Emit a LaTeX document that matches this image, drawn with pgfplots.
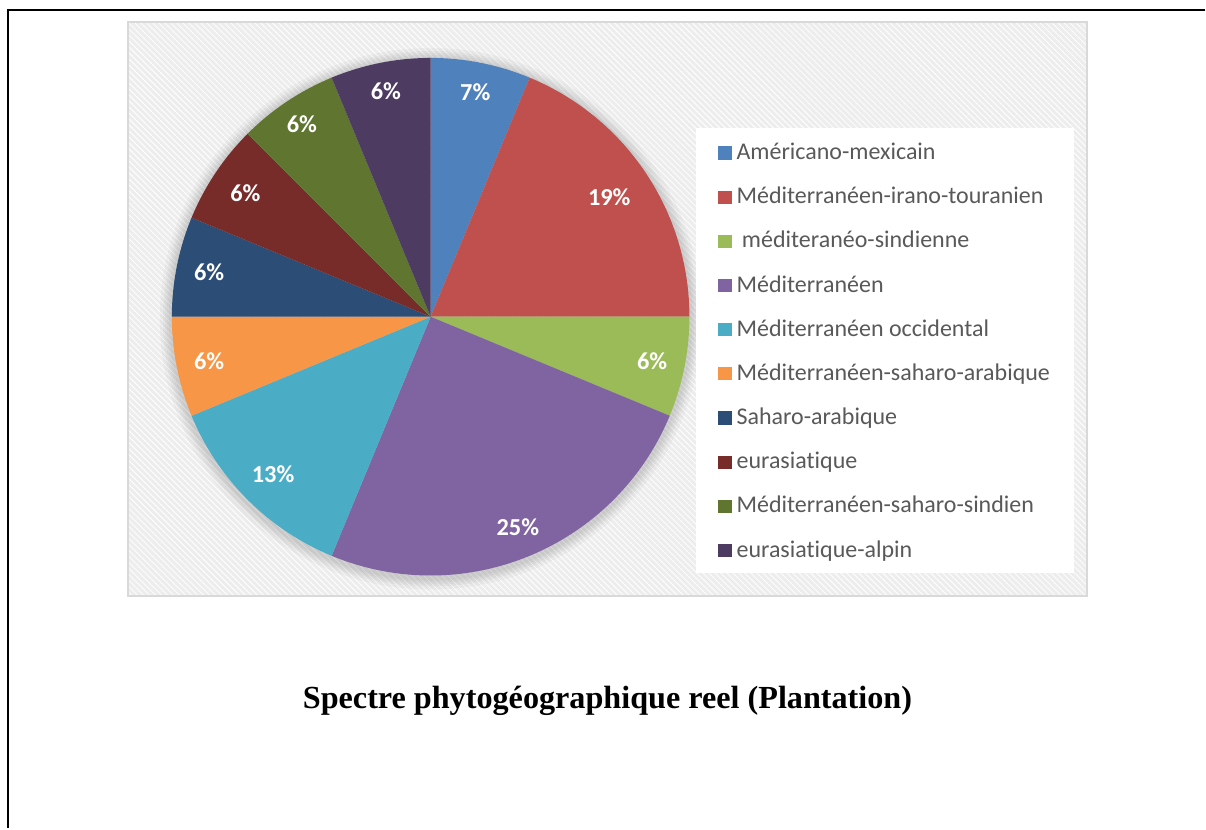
\documentclass[border=0pt]{standalone}
\usepackage{fontspec}
\setmainfont{Liberation Serif}
\newfontfamily\carlito[RawFeature={-liga}]{Carlito}
\usepackage{pgfplots}
\pgfplotsset{compat=1.18}
\usetikzlibrary{patterns}

\definecolor{c1}{HTML}{4F81BD}
\definecolor{c2}{HTML}{C0504D}
\definecolor{c3}{HTML}{9BBB59}
\definecolor{c4}{HTML}{8064A2}
\definecolor{c5}{HTML}{4BACC6}
\definecolor{c6}{HTML}{F79646}
\definecolor{c7}{HTML}{2C4D75}
\definecolor{c8}{HTML}{772C2A}
\definecolor{c9}{HTML}{5F7530}
\definecolor{c10}{HTML}{4D3B62}
\definecolor{legtext}{HTML}{595959}
\definecolor{bg}{HTML}{EDEDED}
\definecolor{bgline}{HTML}{D9D9D9}

\tikzset{lab/.style={font=\carlito\bfseries\fontsize{12.2}{14}\selectfont, text=white}}

\begin{document}
\begin{tikzpicture}
\begin{axis}[
    x=0.5pt, y=0.5pt,
    xmin=0, xmax=1206, ymin=0, ymax=829,
    hide axis, clip=false,
    legend image code/.code={\fill[#1] (0pt,0pt) rectangle (6.6pt,6.6pt);},
    legend style={draw=none, fill=none, inner sep=0pt, outer sep=0pt,
        at={(axis cs:719,685.3)}, anchor=north west,
        font=\carlito\fontsize{12}{14}\selectfont, text=legtext,
        row sep=11.1pt, column sep=2.5pt,
        cells={anchor=base west},
        nodes={inner sep=0pt, text height=8pt, text depth=3pt}},
]
\path (axis cs:0,0) rectangle (axis cs:1206,829);

% frame
\draw[line width=1pt] (axis cs:1206,819) -- (axis cs:8,819) -- (axis cs:8,0);

% chart area
\fill[bg] (axis cs:128,232) rectangle (axis cs:1088,807);
\fill[pattern=north west lines, pattern color=white] (axis cs:128,232) rectangle (axis cs:1088,807);
\draw[bgline, line width=1pt] (axis cs:128,232) rectangle (axis cs:1088,807);

% pie shadow
\fill[black, opacity=0.03] (axis cs:431,510) circle[radius=135.5pt];
\fill[black, opacity=0.03] (axis cs:431,510) circle[radius=134pt];
\fill[black, opacity=0.03] (axis cs:431,510) circle[radius=133pt];
\fill[black, opacity=0.03] (axis cs:431,510) circle[radius=132pt];
\fill[black, opacity=0.03] (axis cs:431,510) circle[radius=131pt];

% legend box
\fill[white] (axis cs:697,256) rectangle (axis cs:1075,701);

% wedges: value / colour / label / label distance (px)
\gdef\s{90}
\foreach \v/\c/\l/\d in {6.25/c1/7/229, 18.75/c2/19/215, 6.25/c3/6/226,
    25/c4/25/228, 12.5/c5/13/223, 6.25/c6/6/226, 6.25/c7/6/226,
    6.25/c8/6/223, 6.25/c9/6/232, 6.25/c10/6/230}{
  \pgfmathsetmacro\e{\s-3.6*\v}
  \pgfmathsetmacro\m{(\s+\e)/2}
  \pgfmathsetmacro\dd{\d/2}
  \edef\temp{\noexpand\fill[\c] (axis cs:431,512) -- ++(\s:129.5pt)
      arc[start angle=\s, end angle=\e, radius=129.5pt] -- cycle;
    \noexpand\node[lab] at ([shift={(\m:\dd pt)}]axis cs:431,512) {\l\noexpand\%};}
  \temp
  \xdef\s{\e}
}

\addlegendimage{fill=c1, draw=none}
\addlegendentry{Américano-mexicain}
\addlegendimage{fill=c2, draw=none}
\addlegendentry{Méditerranéen-irano-touranien}
\addlegendimage{fill=c3, draw=none}
\addlegendentry{\hspace{2.7pt}méditeranéo-sindienne}
\addlegendimage{fill=c4, draw=none}
\addlegendentry{Méditerranéen}
\addlegendimage{fill=c5, draw=none}
\addlegendentry{Méditerranéen occidental}
\addlegendimage{fill=c6, draw=none}
\addlegendentry{Méditerranéen-saharo-arabique}
\addlegendimage{fill=c7, draw=none}
\addlegendentry{Saharo-arabique}
\addlegendimage{fill=c8, draw=none}
\addlegendentry{eurasiatique}
\addlegendimage{fill=c9, draw=none}
\addlegendentry{Méditerranéen-saharo-sindien}
\addlegendimage{fill=c10, draw=none}
\addlegendentry{eurasiatique-alpin}

\node[font=\bfseries\fontsize{16.1}{19}\selectfont] at (axis cs:608,128) {Spectre phytogéographique reel (Plantation)};
\end{axis}
\end{tikzpicture}
\end{document}
